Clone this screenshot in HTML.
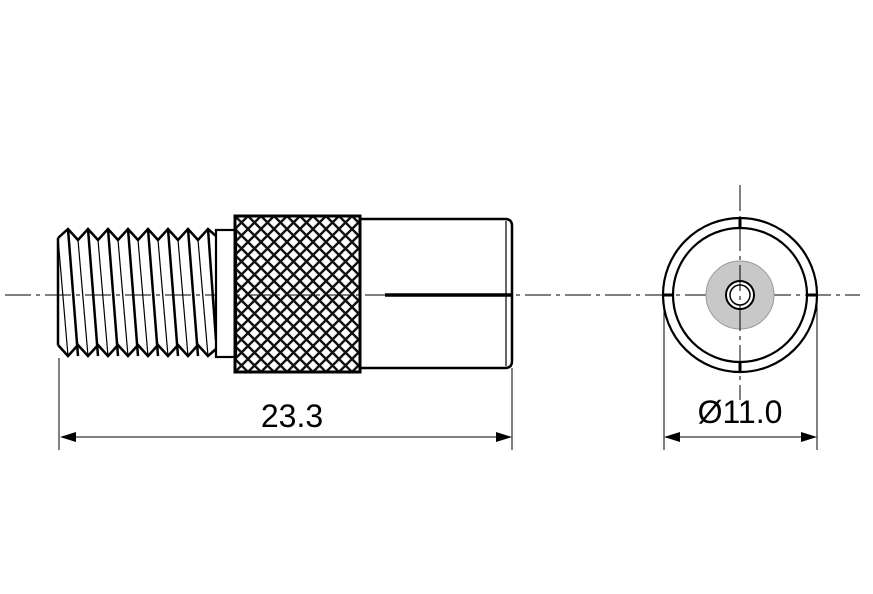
<!DOCTYPE html>
<html><head><style>html,body{margin:0;padding:0;background:#fff}svg{display:block}</style></head>
<body>
<svg width="873" height="594" viewBox="0 0 873 594" xmlns="http://www.w3.org/2000/svg">
<defs>
<pattern id="kn" width="13" height="13" patternUnits="userSpaceOnUse" x="235" y="216">
<path d="M0,0 L13,13 M13,0 L0,13" stroke="#111" stroke-width="2.4"/>
</pattern>
<clipPath id="kc"><rect x="236" y="217" width="123" height="154"/></clipPath>
</defs>
<g fill="none" stroke="#000">
<path d="M5,295 H860" stroke-width="1" stroke-dasharray="26,5,4,5"/>
<path d="M58,238 L68,229 L78,240 L88,229 L98,240 L108,229 L118,240 L128,229 L138,240 L148,229 L158,240 L168,229 L178,240 L188,229 L198,240 L208,229 L216,236" stroke-width="2.5" stroke-linejoin="miter" fill="#fff"/>
<path d="M58,345 L68,356 L78,345 L88,356 L98,345 L108,356 L118,345 L128,356 L138,345 L148,356 L158,345 L168,356 L178,345 L188,356 L198,345 L208,356 L216,349" stroke-width="2.5"/>
<path d="M58,238 V345" stroke-width="2.5"/>
<g stroke-width="2.5">
<path d="M68,229 L78,356 M88,229 L98,356 M108,229 L118,356 M128,229 L138,356 M148,229 L158,356 M168,229 L178,356 M188,229 L198,356 M208,229 L216,340"/>
</g>
<g stroke-width="1.2">
<path d="M58,238 L68,356 M78,240 L88,356 M98,240 L108,356 M118,240 L128,356 M138,240 L148,356 M158,240 L168,356 M178,240 L188,356 M198,240 L208,356"/>
</g>
<rect x="216" y="230" width="20" height="127" stroke-width="2.2" fill="#fff"/>
<rect x="236" y="217" width="123" height="154" fill="url(#kn)" stroke="none" clip-path="url(#kc)"/>
<rect x="235" y="216" width="125" height="156" stroke-width="3"/>
<path d="M360,219 H505 Q512,219 512,226 V361 Q512,368 505,368 H360" stroke-width="2.5"/>
<path d="M506,221 V366" stroke-width="1.2"/>
<path d="M385,295 H512" stroke-width="3.5"/>
<path d="M59,358 V450 M512,368 V450" stroke-width="1"/>
<path d="M72,437 H500" stroke-width="1"/>
</g>
<path d="M60,437 L76,432 L76,442 Z M512,437 L496,432 L496,442 Z" fill="#000"/>
<text x="292" y="427" font-family="Liberation Sans, sans-serif" font-size="32" text-anchor="middle">23.3</text>
<g fill="none" stroke="#000">
<circle cx="740" cy="295" r="77" stroke-width="2.2"/>
<circle cx="740" cy="295" r="67" stroke-width="2.2"/>
<circle cx="740" cy="295" r="34" fill="#c8c8c8" stroke="#999" stroke-width="1"/>
<circle cx="740" cy="295" r="14" stroke-width="2" fill="#fff"/>
<circle cx="740" cy="295" r="10" stroke-width="1.5"/>
<path d="M740,185 V400" stroke-width="1" stroke-dasharray="26,5,4,5"/>
<path d="M740,218 V228 M740,362 V372 M663,295 H673 M807,295 H817" stroke-width="3"/>
<path d="M664,300 V450 M817,300 V450" stroke-width="1"/>
<path d="M676,437 H805" stroke-width="1"/>
</g>
<path d="M664,437 L680,432 L680,442 Z M817,437 L801,432 L801,442 Z" fill="#000"/>
<text x="740" y="423" font-family="Liberation Sans, DejaVu Sans, sans-serif" font-size="32" text-anchor="middle">Ø11.0</text>
</svg>
</body></html>
